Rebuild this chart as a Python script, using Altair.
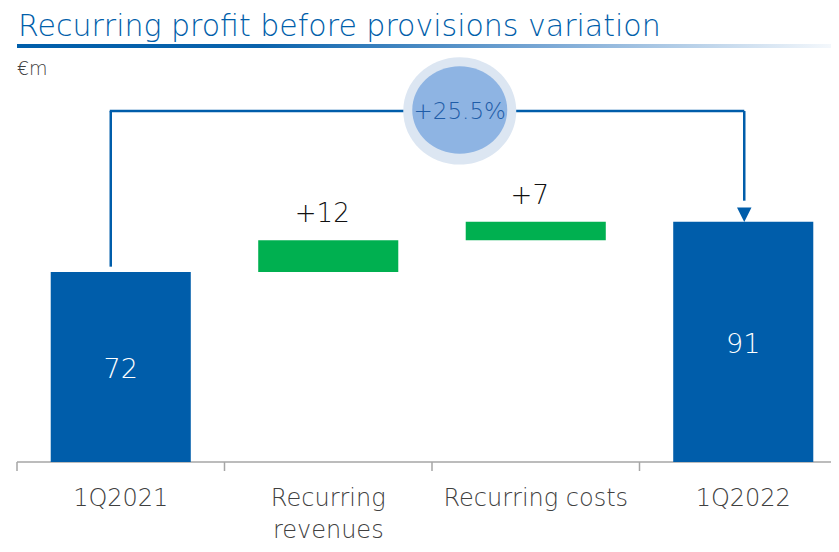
import altair as alt
import pandas as pd

# ---- data ----
categories = ["1Q2021", "Recurring revenues", "Recurring costs", "1Q2022"]
axis_labels = ["1Q2021", "Recurring\nrevenues", "Recurring costs", "1Q2022"]
start_value = 72
deltas = [12, 7]
end_value = 91
bar_start = [0, 72, 84, 0]
bar_end = [72, 84, 91, 91]
kinds = ["total", "delta", "delta", "total"]
value_labels = ["72", "+12", "+7", "91"]
variation_label = "+25.5%"
connector_level = 133

title_text = "Recurring profit before provisions variation"
unit_text = "€m"

BLUE = "#005DAA"
GREEN = "#00B050"
GREY = "#A6A6A6"
FONT = "DejaVu Sans"
FW = 200
HALF = 0.3375  # half bar width, in category steps

n = len(categories)
df = pd.DataFrame({
    "cat": categories,
    "i": list(range(n)),
    "lab": axis_labels,
    "y0": bar_start,
    "y1": bar_end,
    "kind": kinds,
    "vl": value_labels,
    "mid": [(a + b) / 2 for a, b in zip(bar_start, bar_end)],
})
ticks_df = pd.DataFrame({"t": [k - 0.5 for k in range(n)], "z": [0] * n})

# one category step = 207.5 px, first category boundary 9 px into the plot
W = 823
xs = alt.Scale(domain=[-0.5434, (W - 9) / 207.5 - 0.5], nice=False, zero=False)
ys = alt.Scale(domain=[0, 172], nice=False, zero=False)


def X(f):
    return alt.X(f, scale=xs, axis=None)


def Y(f):
    return alt.Y(f, scale=ys, axis=None)


base = alt.Chart(df)

bars = base.transform_calculate(xa=f"datum.i - {HALF}", xb=f"datum.i + {HALF}").mark_rect().encode(
    x=X("xa:Q"), x2="xb:Q", y=Y("y0:Q"), y2="y1:Q",
    color=alt.Color("kind:N", scale=alt.Scale(domain=["total", "delta"], range=[BLUE, GREEN]), legend=None),
)

axis_line = alt.Chart(pd.DataFrame({"a": [-0.5], "b": [n - 0.5], "z": [0]})).mark_rule(
    color=GREY, strokeWidth=1.5).encode(x=X("a:Q"), x2="b:Q", y=Y("z:Q"))
ticks = alt.Chart(ticks_df).mark_rule(color=GREY, strokeWidth=1.5, y2Offset=9).encode(
    x=X("t:Q"), y=Y("z:Q"), y2="z:Q")

tot_labels = base.transform_filter(alt.datum.kind == "total").mark_text(
    font=FONT, fontWeight=FW, fontSize=27, color="white", baseline="middle", dy=3
).encode(x=X("i:Q"), y=Y("mid:Q"), text="vl:N")

delta_labels = base.transform_filter(alt.datum.kind == "delta").mark_text(
    font=FONT, fontWeight=FW, fontSize=26, color="#111111", baseline="alphabetic", dy=-18, dx=-6
).encode(x=X("i:Q"), y=Y("y1:Q"), text="vl:N")

cat_labels = base.mark_text(
    font=FONT, fontWeight=FW, fontSize=24, color="#404040", baseline="middle", lineBreak="\n", lineHeight=32
).encode(x=X("i:Q"), y=alt.value(491), text="lab:N")

conn = pd.DataFrame({
    "a": [0], "b": [n - 1], "c": [2],
    "lvl": [connector_level], "s": [start_value + 2], "e": [end_value + 8],
    "tip": [end_value], "pct": [variation_label],
})
cb = alt.Chart(conn)
left_v = cb.mark_rule(color=BLUE, strokeWidth=2.5, xOffset=-10).encode(
    x=X("a:Q"), y=Y("s:Q"), y2="lvl:Q")
horiz = cb.mark_rule(color=BLUE, strokeWidth=2.5, xOffset=-11, x2Offset=1).encode(
    x=X("a:Q"), x2="b:Q", y=Y("lvl:Q"))
right_v = cb.mark_rule(color=BLUE, strokeWidth=2.5, xOffset=1).encode(
    x=X("b:Q"), y=Y("lvl:Q"), y2="e:Q")
# arrow tip at the top of the 1Q2022 bar
arrow = cb.mark_point(
    shape="M-1,-1L1,-1L0,1Z", filled=True, color=BLUE, opacity=1, size=210, yOffset=-7, xOffset=1
).encode(x=X("b:Q"), y=Y("tip:Q"))

outer = cb.mark_point(shape="M-1,0A1,0.95,0,1,0,1,0A1,0.95,0,1,0,-1,0Z", filled=True, color="#DCE6F2",
                      opacity=1, size=113 * 113, xOffset=-76).encode(x=X("c:Q"), y=Y("lvl:Q"))
inner = cb.mark_point(shape="M-1,0A1,0.92,0,1,0,1,0A1,0.92,0,1,0,-1,0Z", filled=True, color="#8EB4E3",
                      opacity=1, size=95 * 95, xOffset=-76, yOffset=-1).encode(x=X("c:Q"), y=Y("lvl:Q"))
pct = cb.mark_text(font=FONT, fontWeight=FW, fontSize=23, color="#1F5DA8", baseline="middle",
                   xOffset=-76, dy=1).encode(x=X("c:Q"), y=Y("lvl:Q"), text="pct:N")

deco = alt.Chart(pd.DataFrame({"t": [title_text], "u": [unit_text]}))
title = deco.mark_text(font=FONT, fontWeight=FW, fontSize=30, color="#005EAA", align="left",
                       baseline="alphabetic").encode(
    x=alt.value(10), y=alt.value(28), text="t:N")
unit = deco.mark_text(font=FONT, fontWeight=FW, fontSize=19, color="#404040", align="left",
                      baseline="alphabetic").encode(
    x=alt.value(9), y=alt.value(67), text="u:N")
grad = deco.mark_rect(color=alt.LinearGradient(
    gradient="linear", x1=0, x2=1, y1=0, y2=0,
    stops=[alt.GradientStop(offset=0, color="#005EAA"),
           alt.GradientStop(offset=0.3, color="#0A63AC"),
           alt.GradientStop(offset=0.65, color="#7AA8D5"),
           alt.GradientStop(offset=1, color="#F4F8FC")])).encode(
    x=alt.value(9), x2=alt.value(W), y=alt.value(36), y2=alt.value(40))

chart = alt.layer(
    grad, title, unit, axis_line, ticks, bars, tot_labels, delta_labels, cat_labels,
    left_v, horiz, right_v, arrow, outer, inner, pct
).properties(
    width=W, height=454, autosize=alt.AutoSizeParams(type="none"),
    padding={"left": 0, "top": 0, "right": 0, "bottom": 82},
).configure(background="white").configure_view(stroke=None)

chart.save("out.html", embed_options={"renderer": "svg", "actions": False})
